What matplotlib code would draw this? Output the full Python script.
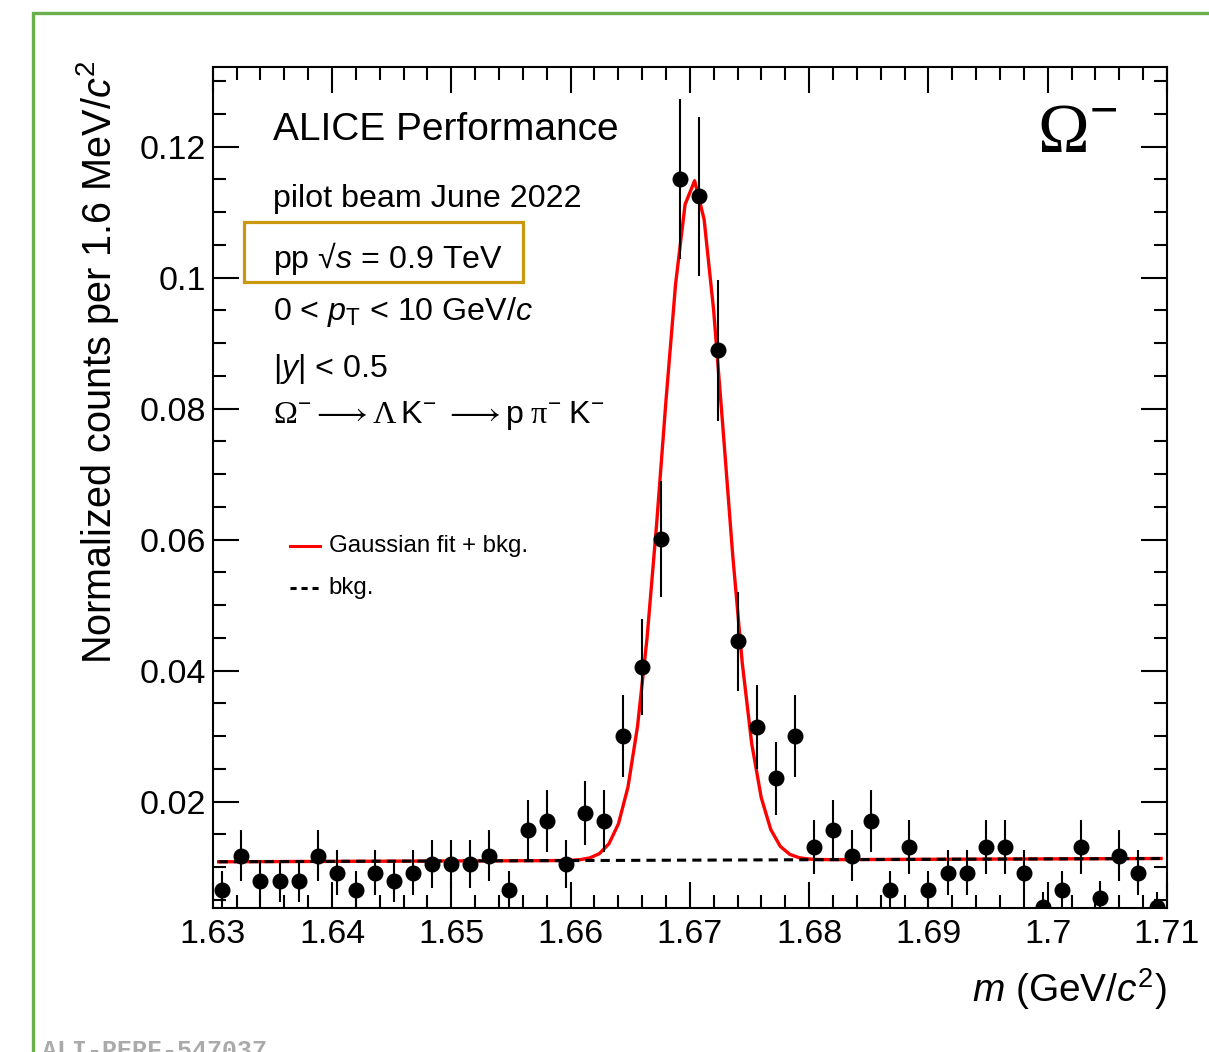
import numpy as np
import matplotlib
matplotlib.use('Agg')
import matplotlib.pyplot as plt
from matplotlib.ticker import MultipleLocator, FuncFormatter
from matplotlib.patches import Rectangle
from matplotlib.lines import Line2D

plt.rcParams['font.family'] = ['Liberation Sans', 'DejaVu Sans']
plt.rcParams['mathtext.fontset'] = 'custom'
plt.rcParams['mathtext.rm'] = 'Liberation Sans'
plt.rcParams['mathtext.it'] = 'Liberation Sans:italic'
plt.rcParams['mathtext.cal'] = 'Liberation Serif'

# histogram binning: 50 bins of 1.6 MeV between 1.63 and 1.71 GeV/c^2
mass_lo, mass_hi, n_bins = 1.63, 1.71, 50

# normalized counts per bin
counts = [0.00654, 0.01176, 0.00784, 0.00784, 0.00784, 0.01176, 0.00915, 0.00654, 0.00915, 0.00784,
          0.00915, 0.01046, 0.01046, 0.01046, 0.01176, 0.00654, 0.01568, 0.01699, 0.01046, 0.01830,
          0.01699, 0.03006, 0.04052, 0.06012, 0.11502, 0.11240, 0.08888, 0.04444, 0.03137, 0.02353,
          0.03006, 0.01307, 0.01568, 0.01176, 0.01699, 0.00654, 0.01307, 0.00654, 0.00915, 0.00915,
          0.01307, 0.01307, 0.00915, 0.00392, 0.00654, 0.01307, 0.00523, 0.01176, 0.00915, 0.00392]
errors = [0.00292, 0.00392, 0.00320, 0.00320, 0.00320, 0.00392, 0.00346, 0.00292, 0.00346, 0.00320,
          0.00346, 0.00370, 0.00370, 0.00370, 0.00392, 0.00292, 0.00453, 0.00471, 0.00370, 0.00489,
          0.00471, 0.00627, 0.00728, 0.00886, 0.01226, 0.01212, 0.01078, 0.00762, 0.00640, 0.00555,
          0.00627, 0.00413, 0.00453, 0.00392, 0.00471, 0.00292, 0.00413, 0.00292, 0.00346, 0.00346,
          0.00413, 0.00413, 0.00346, 0.00226, 0.00292, 0.00413, 0.00261, 0.00392, 0.00346, 0.00226]

# fit parameters (gaussian + linear background)
fit_mean = 1.6703
fit_sigma = 0.0026
fit_amp = 0.1038
bkg_p0 = 0.0108
bkg_p1 = 0.0063
fit_lo, fit_hi = 1.6305, 1.7095

edges = np.linspace(mass_lo, mass_hi, n_bins + 1)
centers = 0.5 * (edges[1:] + edges[:-1])

m = np.linspace(fit_lo, fit_hi, 100)
bkg = bkg_p0 + bkg_p1 * (m - mass_lo)
total = bkg + fit_amp * np.exp(-0.5 * ((m - fit_mean) / fit_sigma) ** 2)

fig = plt.figure(figsize=(12.09, 10.52), dpi=100)
ax = fig.add_axes([0.17593, 0.13660, 0.78933, 0.79943])

ax.plot(m, total, color='#ff0000', lw=2.4, zorder=2)
ax.plot(m, bkg, color='black', lw=2.2, ls=(0, (3, 2)), zorder=2.5)
ax.errorbar(centers, counts, yerr=errors, fmt='o', color='black', ms=10.5,
            elinewidth=1.5, capsize=0, zorder=3)

ax.set_xlim(mass_lo, mass_hi)
ax.set_ylim(0.0037, 0.1321)
ax.xaxis.set_major_locator(MultipleLocator(0.01))
ax.xaxis.set_minor_locator(MultipleLocator(0.002))
ax.yaxis.set_major_locator(MultipleLocator(0.02))
ax.yaxis.set_minor_locator(MultipleLocator(0.005))
fmt = FuncFormatter(lambda v, p: f'{v:g}')
ax.xaxis.set_major_formatter(fmt)
ax.yaxis.set_major_formatter(fmt)
ax.tick_params(which='both', direction='in', top=True, right=True, width=1.5, labelsize=24.5)
ax.tick_params(which='major', length=19)
ax.tick_params(which='minor', length=9.5)
ax.tick_params(axis='x', pad=8)
ax.tick_params(axis='y', pad=5)
for s in ax.spines.values():
    s.set_linewidth(1.5)

fig.text(98 / 1209, 1 - 60 / 1052, r'Normalized counts per 1.6 MeV/$c^{2}$', rotation=90,
         ha='center', va='top', fontsize=28.5)
fig.text(1167 / 1209, 1 - 1001.7 / 1052, r'$m$ (GeV/$c^{2}$)', ha='right', va='baseline', fontsize=28)

tx = 0.0632
ax.text(tx, 0.9136, 'ALICE Performance', transform=ax.transAxes, fontsize=28)
ax.text(tx, 0.8343, 'pilot beam June 2022', transform=ax.transAxes, fontsize=23.2)
ax.text(tx, 0.7610, 'pp √$s$ = 0.9 TeV', transform=ax.transAxes, fontsize=23.2)
ax.text(tx, 0.6995, r'0 < $p_{\mathrm{T}}$ < 10 GeV/$c$', transform=ax.transAxes, fontsize=23.2)
ax.text(tx, 0.6321, r'|$y$| < 0.5', transform=ax.transAxes, fontsize=23.2)
ax.text(tx, 0.5767,
        r'$\mathcal{\Omega}^{-}\longrightarrow\mathcal{\Lambda}\,\mathrm{K}^{-}\;\longrightarrow\mathrm{p}\;\mathcal{\pi}^{-}\;\mathrm{K}^{-}$',
        transform=ax.transAxes, fontsize=23.2)
ax.text(0.8638, 0.8993, r'$\mathcal{\Omega}^{-}$', transform=ax.transAxes, fontsize=50)

ax.add_patch(Rectangle((0.0331, 0.745), 0.3255 - 0.0331, 0.8157 - 0.745, transform=ax.transAxes,
                       fill=False, ec='#c9980f', lw=2.3, zorder=5))

# legend
ax.add_line(Line2D([0.0810, 0.1125], [0.4308, 0.4308], transform=ax.transAxes, color='#ff0000', lw=2.2))
ax.add_line(Line2D([0.0810, 0.1125], [0.3803, 0.3803], transform=ax.transAxes, color='black', lw=2.2,
                   ls=(0, (2, 1.6))))
ax.text(0.1218, 0.4308, 'Gaussian fit + bkg.', transform=ax.transAxes, fontsize=17.3, va='center')
ax.text(0.1218, 0.3803, 'bkg.', transform=ax.transAxes, fontsize=17.3, va='center')

# green frame of the slide
fig.add_artist(Rectangle((33.3 / 1209, -0.1), 1.0, 1.1 - 13.3 / 1052, transform=fig.transFigure,
                         fill=False, ec='#6ab04c', lw=2.4, clip_on=False))
fig.text(41.7 / 1209, -6 / 1052, 'ALI-PERF-547037', family='Liberation Mono', fontsize=18,
         fontweight='bold', color='#aaaaaa', va='baseline')

fig.savefig('out.png', dpi=100)
